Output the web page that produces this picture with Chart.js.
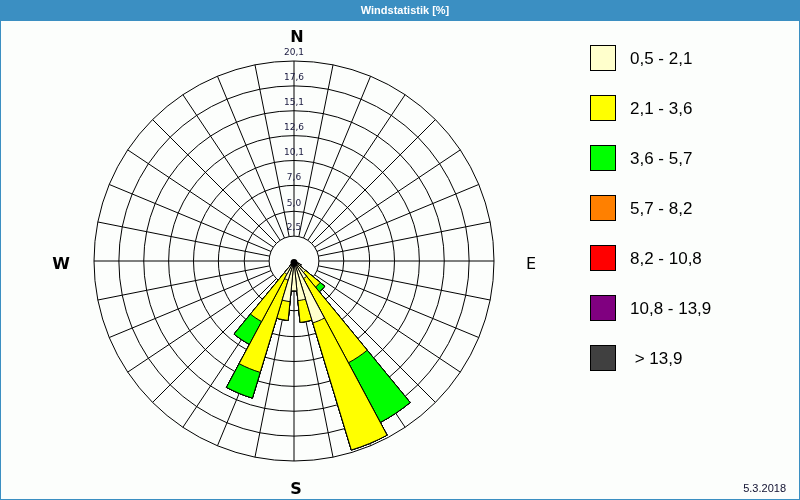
<!DOCTYPE html>
<html><head><meta charset="utf-8">
<script src="https://cdn.jsdelivr.net/npm/chart.js@4.4.1/dist/chart.umd.min.js"></script>
<style>html,body{margin:0;padding:0;background:#fff;}canvas{display:block}</style>
</head><body>
<canvas id="c" width="800" height="500"></canvas>
<script>
// 32 wind directions (sector centres every 11.25°)
const directions = ['N','NzO','NNO','NOzN','NO','NOzO','ONO','OzN','O','OzS','OSO','SOzO','SO','SOzS','SSO','SzO',
                    'S','SzW','SSW','SWzS','SW','SWzW','WSW','WzS','W','WzN','WNW','NWzW','NW','NWzN','NNW','NzW'];
// speed classes (m/s) and colours
const classLabels = ['0,5 - 2,1','2,1 - 3,6','3,6 - 5,7','5,7 - 8,2','8,2 - 10,8','10,8 - 13,9',' > 13,9'];
const classColors = ['#FFFFCC','#FFFF00','#00FF00','#FF8000','#FF0000','#800080','#404040'];
// frequency [%] per direction for each speed class
const cls1 = [0,0,0,0,0,0,0,0,0,0,0,0.8,1.5,2.0,6.5,4.0,3.0,4.1,2.0,1.5,0,0,0,0,0,0,0,0,0,0,0,0];
const cls2 = [0,0,0,0,0,0,0,0,0,0,0,0,  1.9,9.6,13.35,2.2,0,1.9,9.7,5.4,0,0,0,0,0,0,0,0,0,0,0,0];
const cls3 = [0,0,0,0,0,0,0,0,0,0,0,0,  0.6,6.8,0,0,0,0,2.7,2.6,0,0,0,0,0,0,0,0,0,0,0,0];
const cls4 = [0,0,0,0,0,0,0,0,0,0,0,0,0,0,0,0,0,0,0,0,0,0,0,0,0,0,0,0,0,0,0,0];
const cls5 = [0,0,0,0,0,0,0,0,0,0,0,0,0,0,0,0,0,0,0,0,0,0,0,0,0,0,0,0,0,0,0,0];
const cls6 = [0,0,0,0,0,0,0,0,0,0,0,0,0,0,0,0,0,0,0,0,0,0,0,0,0,0,0,0,0,0,0,0];
const cls7 = [0,0,0,0,0,0,0,0,0,0,0,0,0,0,0,0,0,0,0,0,0,0,0,0,0,0,0,0,0,0,0,0];
// radial rings and their labels
const ringValues = [2.5,5.0,7.6,10.1,12.6,15.1,17.6,20.1];
const ringLabels = ['2,5','5,0','7,6','10,1','12,6','15,1','17,6','20,1'];
const compass = [['N',0],['E',90],['S',180],['W',270]];
const titleText = 'Windstatistik [%]';
const dateText = '5.3.2018';

const classes = [cls1,cls2,cls3,cls4,cls5,cls6,cls7];
const sector = 360 / directions.length;
// cumulative stacks: dataset 0 (smallest) is drawn on top
const datasets = classes.map((c, k) => ({
  label: classLabels[k],
  data: directions.map((d, i) => classes.slice(0, k + 1).reduce((s, a) => s + a[i], 0)),
  backgroundColor: classColors[k],
  borderColor: '#000',
  borderWidth: 1
}));

const framePlugin = {
  id: 'frame',
  beforeDraw(chart) {
    const ctx = chart.ctx;
    ctx.save();
    ctx.fillStyle = '#FCFEFC';
    ctx.fillRect(0, 0, 800, 500);
    ctx.fillStyle = '#3B8FC2';
    ctx.fillRect(0, 0, 800, 21);
    ctx.strokeStyle = '#3B8FC2';
    ctx.lineWidth = 1;
    ctx.strokeRect(0.5, 0.5, 799, 499);
    ctx.fillStyle = '#FFFFFF';
    ctx.font = 'bold 11px "Liberation Sans", Arial, sans-serif';
    ctx.textAlign = 'center';
    ctx.textBaseline = 'middle';
    ctx.fillText(titleText, 405, 11);
    ctx.fillStyle = '#101030';
    ctx.font = '11px "Liberation Sans Narrow", "Liberation Sans", Arial, sans-serif';
    ctx.textAlign = 'right';
    ctx.fillText(dateText, 786, 489);
    ctx.restore();
  },
  beforeDatasetsDraw(chart) {
    const s = chart.scales.r, ctx = chart.ctx;
    const r0 = s.getDistanceFromCenterForValue(ringValues[0]);
    const r1 = s.getDistanceFromCenterForValue(ringValues[ringValues.length - 1]);
    ctx.save();
    ctx.strokeStyle = '#000';
    ctx.lineWidth = 1;
    ctx.beginPath();
    for (let i = 0; i < directions.length; i++) {
      const a = (i * sector - 90) * Math.PI / 180;
      ctx.moveTo(s.xCenter + Math.cos(a) * r0, s.yCenter + Math.sin(a) * r0);
      ctx.lineTo(s.xCenter + Math.cos(a) * r1, s.yCenter + Math.sin(a) * r1);
    }
    ctx.stroke();
    ctx.restore();
  },
  afterDatasetsDraw(chart) {
    const s = chart.scales.r, ctx = chart.ctx;
    ctx.save();
    // centre dot
    ctx.fillStyle = '#000';
    ctx.beginPath();
    ctx.arc(s.xCenter, s.yCenter + 1.5, 3.5, 0, Math.PI * 2);
    ctx.fill();
    // ring labels
    ctx.fillStyle = '#1a1a40';
    ctx.font = '9px "DejaVu Sans", Verdana, sans-serif';
    ctx.textAlign = 'center';
    ctx.textBaseline = 'middle';
    ringValues.forEach((v, k) => {
      const r = s.getDistanceFromCenterForValue(v);
      ctx.fillText(ringLabels[k], s.xCenter, s.yCenter - r - 8);
    });
    // compass letters
    ctx.fillStyle = '#000';
    compass.forEach(([t, deg]) => {
      const rr = s.drawingArea + (deg === 0 ? 24 : deg === 180 ? 28 : 34);
      const a = (deg - 90) * Math.PI / 180;
      ctx.font = (t === 'E' ? '' : 'bold ') + '16px "DejaVu Sans", Verdana, sans-serif';
      const dx = deg === 0 ? 3 : deg === 180 ? 2 : deg === 270 ? 1 : 3;
      ctx.fillText(t, s.xCenter + Math.cos(a) * rr + dx, s.yCenter + Math.sin(a) * rr + (deg === 90 || deg === 270 ? 4 : 1));
    });
    // legend
    ctx.textAlign = 'left';
    ctx.font = '17px "Liberation Sans", Arial, sans-serif';
    chart.data.datasets.forEach((ds, k) => {
      const y = 45 + k * 50;
      ctx.fillStyle = ds.backgroundColor;
      ctx.fillRect(590, y, 25, 25);
      ctx.strokeStyle = '#000';
      ctx.lineWidth = 1;
      ctx.strokeRect(590.5, y + 0.5, 25, 25);
      ctx.fillStyle = '#000';
      ctx.fillText(ds.label, 630, y + 14);
    });
    ctx.restore();
  }
};

new Chart(document.getElementById('c'), {
  type: 'polarArea',
  data: { labels: directions, datasets },
  options: {
    responsive: false,
    animation: false,
    devicePixelRatio: 1,
    layout: { padding: { left: 94, right: 306, top: 61, bottom: 39 } },
    plugins: { legend: { display: false }, tooltip: { enabled: false }, title: { display: false } },
    scales: {
      r: {
        min: 0,
        max: ringValues[ringValues.length - 1],
        startAngle: -sector / 2,
        afterBuildTicks(scale) {
          scale.ticks = [{ value: 0 }].concat(ringValues.map(v => ({ value: v })));
        },
        ticks: { display: false },
        grid: { display: true, circular: true, color: '#000', lineWidth: 1 },
        angleLines: { display: false },
        pointLabels: { display: false }
      }
    }
  },
  plugins: [framePlugin]
});
</script>
</body></html>
